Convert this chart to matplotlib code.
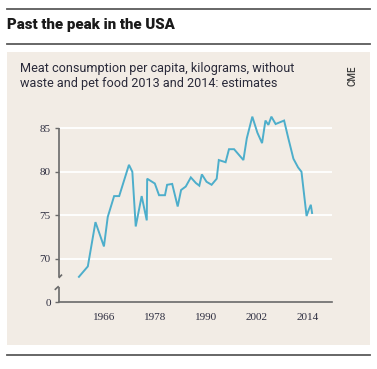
import matplotlib
matplotlib.use("Agg")
import matplotlib.pyplot as plt
from matplotlib.patches import Rectangle
from matplotlib.lines import Line2D

# values (year, kg per capita)
years = [1960.0, 1962.1, 1963.9, 1965.9, 1966.8, 1968.3, 1969.5, 1971.8, 1972.6, 1973.4,
         1974.8, 1976.0, 1976.1, 1977.9, 1978.9, 1980.3, 1980.8, 1982.0, 1983.3, 1984.1,
         1985.2, 1986.4, 1987.6, 1988.4, 1989.0, 1990.1, 1991.3, 1992.5, 1993.0, 1994.6,
         1995.4, 1996.6, 1998.8, 1999.6, 2000.9, 2002.1, 2003.2, 2004.0, 2004.7, 2005.4,
         2006.4, 2008.4, 2009.4, 2010.6, 2011.7, 2012.5, 2013.7, 2014.2, 2014.7, 2015.0]
meat = [67.9, 69.1, 74.2, 71.4, 74.8, 77.2, 77.2, 80.8, 80.0, 73.7,
        77.2, 74.4, 79.2, 78.65, 77.3, 77.3, 78.5, 78.6, 76.0, 77.9,
        78.3, 79.35, 78.7, 78.4, 79.7, 78.85, 78.5, 79.2, 81.35, 81.1,
        82.6, 82.6, 81.35, 83.85, 86.35, 84.5, 83.3, 85.9, 85.4, 86.35,
        85.5, 85.9, 83.85, 81.5, 80.5, 80.0, 74.9, 75.6, 76.2, 75.25]

xticks = [1966, 1978, 1990, 2002, 2014]
ytick_pos = [65, 70, 75, 80, 85]   # 65 stands in for the broken-axis zero
ytick_lab = ["0", "70", "75", "80", "85"]

title = "Past the peak in the USA"
subtitle = "Meat consumption per capita, kilograms, without\nwaste and pet food 2013 and 2014: estimates"
source = "CME"

W, H = 377, 369
fig = plt.figure(figsize=(W / 100, H / 100), dpi=100)
fig.patch.set_facecolor("white")

def fx(px):
    return px / W

def fy(py):
    return 1 - py / H

# beige panel and rules
fig.add_artist(Rectangle((fx(7), fy(345)), fx(370) - fx(7), fy(52) - fy(345),
                         transform=fig.transFigure, facecolor="#f2ece5", edgecolor="none", zorder=0))
for py in [9, 43.5, 355]:
    fig.add_artist(Line2D([fx(7), fx(370)], [fy(py), fy(py)], transform=fig.transFigure,
                          color="#5a5a5a", lw=1.3))

fig.text(fx(7), fy(24.5), title, fontsize=10.8, fontweight="heavy", family="Roboto",
         color="#1a1a1a", va="center", ha="left")
fig.text(fx(20), fy(76), subtitle, fontsize=9.1, family="Roboto", color="#2a2a3a",
         va="center", ha="left", linespacing=1.25)
fig.text(fx(352), fy(76), source, fontsize=7, fontweight="medium", family="Roboto",
         color="#3a3a3a", rotation=90, va="center", ha="center")

ax = fig.add_axes([fx(59), fy(302), fx(332) - fx(59), fy(111) - fy(302)])
ax.set_facecolor("none")
x0, x1 = 1955.3, 2019.7
ax.set_xlim(x0, x1)
ax.set_ylim(65, 87)

for v in ytick_pos[1:]:
    ax.axhline(v, color="white", lw=1.3, zorder=1)

ax.plot(years, meat, color="#4daecb", lw=1.4, zorder=3, solid_joinstyle="miter")

for s in ["top", "right", "left"]:
    ax.spines[s].set_visible(False)
ax.spines["bottom"].set_color("#6a6a6a")
ax.spines["bottom"].set_linewidth(1.2)

# broken left axis
axis_kw = dict(color="#6a6a6a", lw=1.2, clip_on=False, zorder=4, solid_capstyle="butt")
ax.plot([x0, x0], [67.88, 85], **axis_kw)
ax.plot([x0, x0], [65, 66.73], **axis_kw)
ax.plot([x0 - 0.07, x0 + 0.71], [67.77, 68.16], **axis_kw)
ax.plot([x0 - 1.0, x0 - 0.07], [66.4, 66.82], **axis_kw)

ax.set_xticks(xticks)
ax.set_xticklabels([str(t) for t in xticks])
ax.set_yticks(ytick_pos)
ax.set_yticklabels(ytick_lab)
ax.tick_params(axis="x", length=0, pad=8, labelsize=8, labelcolor="#2e2e40")
ax.tick_params(axis="y", length=3, width=1, color="#6a6a6a", pad=3, labelsize=8,
               labelcolor="#2e2e40")
for lab in ax.get_xticklabels() + ax.get_yticklabels():
    lab.set_family("Liberation Serif")

fig.savefig("out.png", dpi=100, facecolor="white")
